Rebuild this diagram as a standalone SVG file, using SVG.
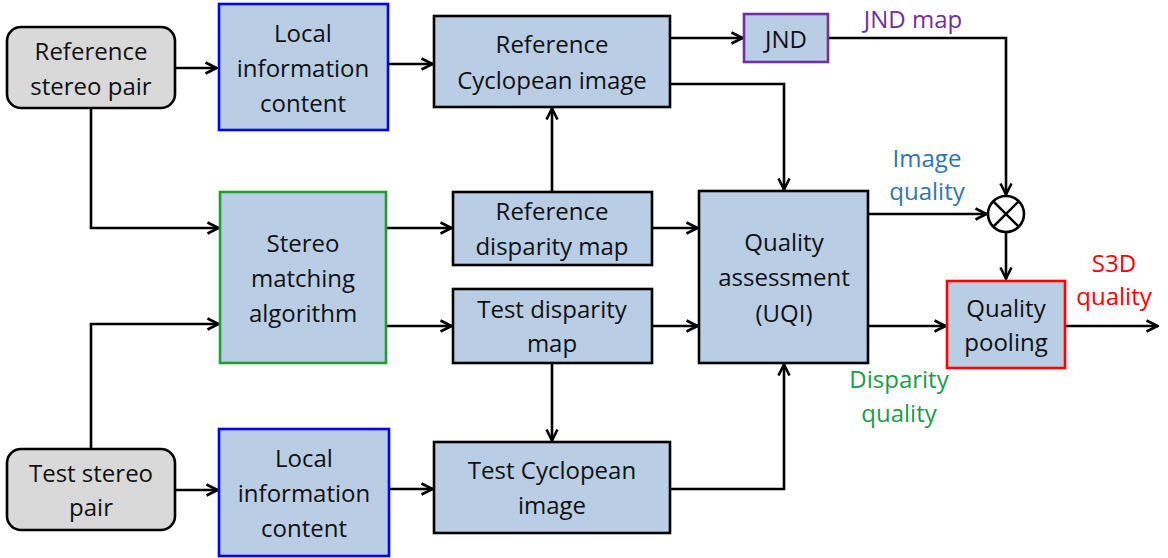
<svg xmlns="http://www.w3.org/2000/svg" width="1168" height="558" viewBox="0 0 1168 558">
<defs>
<marker id="arr" viewBox="0 0 14 14" refX="13" refY="7" markerWidth="14" markerHeight="14" markerUnits="userSpaceOnUse" orient="auto">
<path d="M1.5,1.5 L12.5,7 L1.5,12.5" fill="none" stroke="#000" stroke-width="2.6" stroke-linejoin="miter"/>
</marker>
<style>
.box{fill:#B9CDE5;stroke:#000;stroke-width:2.6}
.src{fill:#D9D9D9;stroke:#000;stroke-width:2.6}
.t{font-family:"Open Sans","Noto Sans",sans-serif;font-size:24px;fill:#111;text-anchor:middle}
.c{fill:none;stroke:#000;stroke-width:2.6}
.a{marker-end:url(#arr)}
</style>
</defs>
<rect width="1168" height="558" fill="#fff"/>
<g id="connectors">
<path class="c a" d="M175,68 H217"/>
<path class="c a" d="M91,108 V228 H219"/>
<path class="c a" d="M388,64 H433"/>
<path class="c a" d="M670,38 H743"/>
<path class="c a" d="M828,38 H1006 V195"/>
<path class="c a" d="M670,84 H784 V190"/>
<path class="c a" d="M552,192 V108"/>
<path class="c a" d="M386,228 H452"/>
<path class="c a" d="M386,326 H452"/>
<path class="c a" d="M652,228 H698"/>
<path class="c a" d="M652,326 H698"/>
<path class="c a" d="M552,363 V441"/>
<path class="c a" d="M670,489 H784 V364"/>
<path class="c a" d="M91,449 V324 H219"/>
<path class="c a" d="M175,490 H218"/>
<path class="c a" d="M389,489 H433"/>
<path class="c a" d="M868,214 H987"/>
<path class="c a" d="M1006,232 V279"/>
<path class="c a" d="M868,326 H946"/>
<path class="c a" d="M1065,326 H1158"/>
</g>
<g id="ref-stereo">
<rect class="src" x="7" y="27" width="168" height="81" rx="14"/>
<text class="t" x="91" y="60">Reference</text>
<text class="t" x="91" y="95">stereo pair</text>
</g>
<g id="local-top">
<rect class="box" x="219" y="4" width="169" height="126" style="stroke:#0000FF"/>
<text class="t" x="303" y="42">Local</text>
<text class="t" x="303" y="77">information</text>
<text class="t" x="303" y="112">content</text>
</g>
<g id="ref-cyclopean">
<rect class="box" x="434" y="16" width="236" height="91"/>
<text class="t" x="552" y="53">Reference</text>
<text class="t" x="552" y="89">Cyclopean image</text>
</g>
<g id="jnd">
<rect class="box" x="744" y="14" width="84" height="48" style="stroke:#7030A0"/>
<text class="t" x="786" y="48">JND</text>
</g>
<g id="stereo-matching">
<rect class="box" x="220" y="192" width="166" height="171" style="stroke:#1E9E2E"/>
<text class="t" x="303" y="252">Stereo</text>
<text class="t" x="303" y="287">matching</text>
<text class="t" x="303" y="322">algorithm</text>
</g>
<g id="ref-disparity">
<rect class="box" x="453" y="192" width="199" height="73"/>
<text class="t" x="552" y="220">Reference</text>
<text class="t" x="552" y="255">disparity map</text>
</g>
<g id="test-disparity">
<rect class="box" x="453" y="289" width="199" height="74"/>
<text class="t" x="552" y="318">Test disparity</text>
<text class="t" x="552" y="352">map</text>
</g>
<g id="quality-assessment">
<rect class="box" x="699" y="191" width="169" height="172"/>
<text class="t" x="784" y="251">Quality</text>
<text class="t" x="784" y="286">assessment</text>
<text class="t" x="784" y="322">(UQI)</text>
</g>
<g id="multiplier">
<circle cx="1006" cy="214" r="18" fill="#fff" stroke="#000" stroke-width="2.6"/>
<path d="M993.3,201.3 L1018.7,226.7 M1018.7,201.3 L993.3,226.7" stroke="#000" stroke-width="2.6"/>
</g>
<g id="quality-pooling">
<rect class="box" x="947" y="281" width="118" height="87" style="stroke:#FF0000"/>
<text class="t" x="1006" y="317">Quality</text>
<text class="t" x="1006" y="351">pooling</text>
</g>
<g id="test-stereo">
<rect class="src" x="7" y="449" width="168" height="81" rx="14"/>
<text class="t" x="91" y="482">Test stereo</text>
<text class="t" x="91" y="516">pair</text>
</g>
<g id="local-bottom">
<rect class="box" x="219" y="429" width="170" height="127" style="stroke:#0000FF"/>
<text class="t" x="304" y="467">Local</text>
<text class="t" x="304" y="502">information</text>
<text class="t" x="304" y="537">content</text>
</g>
<g id="test-cyclopean">
<rect class="box" x="434" y="442" width="236" height="91"/>
<text class="t" x="552" y="479">Test Cyclopean</text>
<text class="t" x="552" y="514">image</text>
</g>
<g id="labels">
<text class="t" x="913" y="28" style="fill:#7030A0">JND map</text>
<text class="t" x="927" y="167" style="fill:#2E75B6">Image</text>
<text class="t" x="927" y="200" style="fill:#2E75B6">quality</text>
<text class="t" x="899" y="388" style="fill:#1E9A4A">Disparity</text>
<text class="t" x="899" y="422" style="fill:#1E9A4A">quality</text>
<text class="t" x="1114" y="272" style="fill:#FF0000">S3D</text>
<text class="t" x="1114" y="305" style="fill:#FF0000">quality</text>
</g>
</svg>
